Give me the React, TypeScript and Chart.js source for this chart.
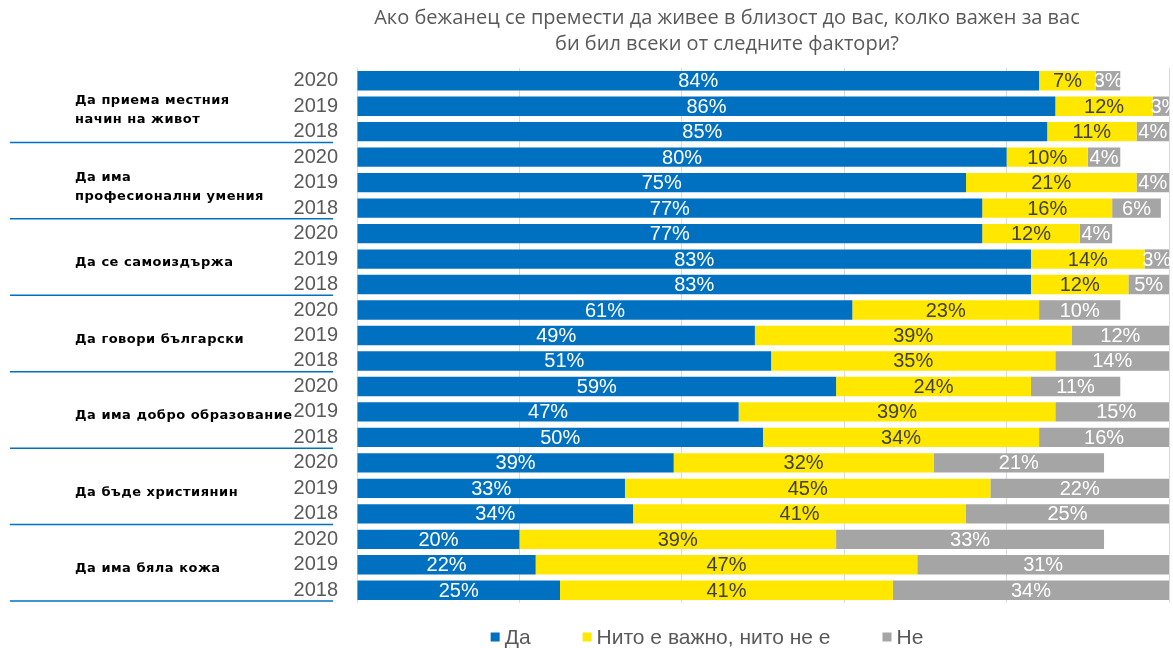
import React, { useEffect, useRef } from 'react';
import { Chart, registerables } from 'chart.js';

Chart.register(...registerables);

const titleLines = [
  'Ако бежанец се премести да живее в близост до вас, колко важен за вас',
  'би бил всеки от следните фактори?',
];
const groupLabels: string[][] = [
  ['Да приема местния', 'начин на живот'],
  ['Да има', 'професионални умения'],
  ['Да се самоиздържа'],
  ['Да говори български'],
  ['Да има добро образование'],
  ['Да бъде християнин'],
  ['Да има бяла кожа'],
];
const years = ['2020', '2019', '2018'];
const seriesNames = ['Да', 'Нито е важно, нито не е', 'Не'];
const yesValues = [84, 86, 85, 80, 75, 77, 77, 83, 83, 61, 49, 51, 59, 47, 50, 39, 33, 34, 20, 22, 25];
const neutralValues = [7, 12, 11, 10, 21, 16, 12, 14, 12, 23, 39, 35, 24, 39, 34, 32, 45, 41, 39, 47, 41];
const noValues = [3, 3, 4, 4, 4, 6, 4, 3, 5, 10, 12, 14, 11, 15, 16, 21, 22, 25, 33, 31, 34];

const categories = groupLabels.flatMap(() => years);
const colors = ['#0070C0', '#FFE700', '#A5A5A5'];
const labelColors = ['#FFFFFF', '#404040', '#FFFFFF'];

const overlayPlugin = {
  id: 'overlay',
  afterDatasetsDraw(chart: any) {
    const ctx = chart.ctx;
    ctx.save();
    ctx.font = '20px "Liberation Sans", Arial, sans-serif';
    ctx.textAlign = 'center';
    ctx.textBaseline = 'middle';
    chart.data.datasets.forEach((ds: any, di: number) => {
      const meta = chart.getDatasetMeta(di);
      meta.data.forEach((el: any, i: number) => {
        const p = el.getProps(['x', 'base', 'y'], true);
        ctx.fillStyle = labelColors[di];
        ctx.fillText(ds.data[i] + '%', (p.x + p.base) / 2, p.y + 1);
      });
    });
    ctx.restore();
  },
  afterDraw(chart: any) {
    const ctx = chart.ctx;
    const y = chart.scales.y;
    ctx.save();
    // title
    ctx.fillStyle = '#595959';
    ctx.font = '20px "Open Sans", sans-serif';
    ctx.textAlign = 'center';
    ctx.textBaseline = 'middle';
    titleLines.forEach((t, i) => ctx.fillText(t, 727, 18 + i * 26));

    // group labels and separators
    const rowH = y.getPixelForValue(1) - y.getPixelForValue(0);
    groupLabels.forEach((lines, g) => {
      const mid = y.getPixelForValue(g * 3 + 1);
      ctx.fillStyle = '#000000';
      ctx.font = 'bold 13px "DejaVu Sans", sans-serif';
      (ctx as any).letterSpacing = '0.5px';
      ctx.textAlign = 'left';
      ctx.textBaseline = 'middle';
      const lh = 19;
      lines.forEach((l, k) => {
        ctx.fillText(l, 75, mid + (k - (lines.length - 1) / 2) * lh + 4);
      });
      (ctx as any).letterSpacing = '0px';
      const sepY = y.getPixelForValue(g * 3 + 2) + rowH / 2 - 2;
      ctx.strokeStyle = '#0070C0';
      ctx.lineWidth = 1.5;
      ctx.beginPath();
      ctx.moveTo(10, sepY);
      ctx.lineTo(333, sepY);
      ctx.stroke();
    });

    // legend
    ctx.font = '21px "Liberation Sans", Arial, sans-serif';
    ctx.textBaseline = 'middle';
    ctx.textAlign = 'left';
    const box = 9, gap = 5, itemGap = 52;
    const widths = seriesNames.map((n) => box + gap + ctx.measureText(n).width);
    const total = widths.reduce((a, b) => a + b, 0) + itemGap * (seriesNames.length - 1);
    let x = 707 - total / 2;
    const ly = 637;
    seriesNames.forEach((n, i) => {
      ctx.fillStyle = colors[i];
      ctx.fillRect(x, ly - box / 2, box, box);
      ctx.fillStyle = '#595959';
      ctx.fillText(n, x + box + gap, ly + 1);
      x += widths[i] + itemGap;
    });
    ctx.restore();
  },
};

export default function App() {
  const ref = useRef<HTMLCanvasElement | null>(null);
  useEffect(() => {
    if (!ref.current) return;
    const chart = new Chart(ref.current, {
      type: 'bar',
      data: {
        labels: categories,
        datasets: [
          { label: seriesNames[0], data: yesValues, backgroundColor: colors[0] },
          { label: seriesNames[1], data: neutralValues, backgroundColor: colors[1] },
          { label: seriesNames[2], data: noValues, backgroundColor: colors[2] },
        ],
      },
      options: {
        indexAxis: 'y',
        animation: false,
        responsive: false,
        maintainAspectRatio: false,
        layout: { padding: { top: 68, bottom: 45, left: 0, right: 4 } },
        datasets: { bar: { categoryPercentage: 1, barPercentage: 0.76 } },
        scales: {
          x: {
            stacked: true,
            min: 0,
            max: 100,
            ticks: { display: false, stepSize: 20 },
            grid: { color: '#D9D9D9', drawTicks: false },
            border: { display: false },
          },
          y: {
            stacked: true,
            afterFit: (s: any) => { s.width = 357; },
            ticks: {
              color: '#595959',
              padding: 19,
              font: { family: '"Liberation Sans", Arial, sans-serif', size: 20 },
              autoSkip: false,
            },
            grid: { display: false, drawTicks: false },
            border: { display: false },
          },
        },
        plugins: {
          legend: { display: false },
          title: { display: false },
          tooltip: { enabled: false },
        },
      },
      plugins: [overlayPlugin],
    });
    return () => chart.destroy();
  }, []);
  return (
    <div style={{ position: 'absolute', left: 0, top: 0, width: 1173, height: 648, background: '#fff' }}>
      <canvas ref={ref} width={1173} height={648} style={{ width: 1173, height: 648 }} />
    </div>
  );
}
